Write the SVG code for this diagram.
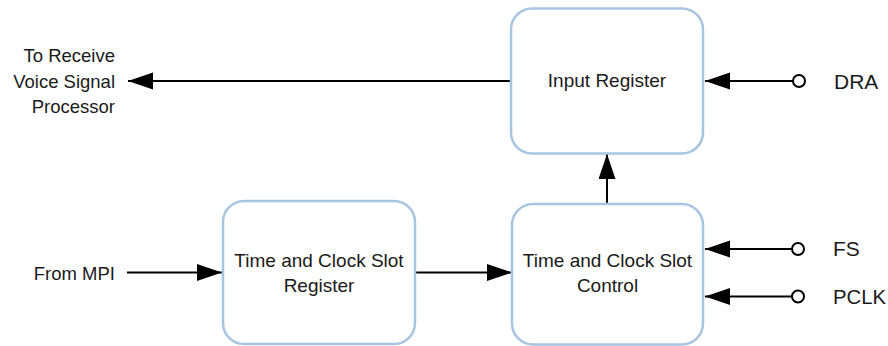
<svg xmlns="http://www.w3.org/2000/svg" width="888" height="346" viewBox="0 0 888 346">
<style>
.box{fill:#fff;stroke:#a7c5e3;stroke-width:2.5}
.t{font-family:"Liberation Sans",Arial,sans-serif;font-size:18.5px;fill:#1a1a1a}
.c{font-family:"Liberation Sans",Arial,sans-serif;font-size:19px;fill:#1a1a1a}
.b{font-family:"Liberation Sans",Arial,sans-serif;font-size:21px;fill:#1a1a1a}
.ln{stroke:#000;stroke-width:2;fill:none}
.pin{fill:#fff;stroke:#000;stroke-width:2}
</style>
<defs>
<marker id="ah" markerUnits="userSpaceOnUse" markerWidth="26" markerHeight="18" refX="25" refY="8.5" orient="auto">
<path d="M0,0 L25,8.5 L0,17 Z" fill="#000"/>
</marker>
</defs>
<rect width="888" height="346" fill="#fff"/>
<g id="connectors">
<line class="ln" x1="511" y1="81" x2="128" y2="81" marker-end="url(#ah)"/>
<line class="ln" x1="793" y1="81" x2="705" y2="81" marker-end="url(#ah)"/>
<line class="ln" x1="607" y1="204" x2="607" y2="154" marker-end="url(#ah)"/>
<line class="ln" x1="127" y1="272.5" x2="222" y2="272.5" marker-end="url(#ah)"/>
<line class="ln" x1="415" y1="272.5" x2="512" y2="272.5" marker-end="url(#ah)"/>
<line class="ln" x1="792" y1="249" x2="705" y2="249" marker-end="url(#ah)"/>
<line class="ln" x1="792" y1="296.5" x2="705" y2="296.5" marker-end="url(#ah)"/>
<circle class="pin" cx="799" cy="81" r="6"/>
<circle class="pin" cx="798" cy="249" r="6"/>
<circle class="pin" cx="798" cy="296.5" r="6"/>
</g>
<g id="input-register">
<rect class="box" x="511" y="8.5" width="192" height="145" rx="21"/>
<text class="c" x="607" y="87" text-anchor="middle">Input Register</text>
</g>
<g id="tcs-register">
<rect class="box" x="223" y="201" width="192" height="143" rx="21"/>
<text class="c" x="319" y="267" text-anchor="middle">Time and Clock Slot</text>
<text class="c" x="319" y="291.5" text-anchor="middle">Register</text>
</g>
<g id="tcs-control">
<rect class="box" x="512" y="204" width="191" height="140.5" rx="21"/>
<text class="c" x="607.5" y="267" text-anchor="middle">Time and Clock Slot</text>
<text class="c" x="607.5" y="291.5" text-anchor="middle">Control</text>
</g>
<g id="label-rvsp">
<text class="t" x="115" y="62" text-anchor="end">To Receive</text>
<text class="t" x="115" y="87.5" text-anchor="end">Voice Signal</text>
<text class="t" x="115" y="113" text-anchor="end">Processor</text>
</g>
<g id="label-mpi">
<text class="t" x="115" y="279.5" text-anchor="end">From MPI</text>
</g>
<g id="pin-dra"><text class="b" x="834" y="89">DRA</text></g>
<g id="pin-fs"><text class="b" x="833" y="256">FS</text></g>
<g id="pin-pclk"><text class="b" x="833" y="304" textLength="53" lengthAdjust="spacingAndGlyphs">PCLK</text></g>
</svg>
